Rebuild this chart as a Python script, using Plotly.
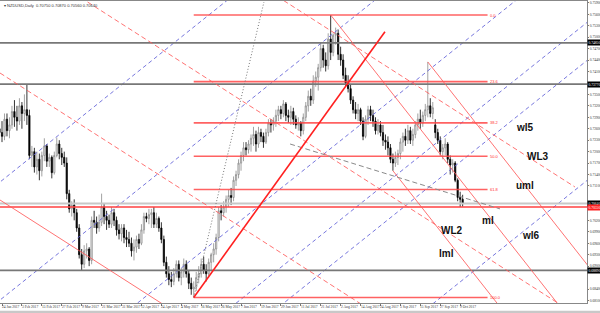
import plotly.graph_objects as go

# ---------------- data (NZDUSD daily, 23 Jan 2017 .. 10 Oct 2017) ----------------
open_ = [
 0.7260,0.7250,0.7240,0.7285,0.7255,0.7270,0.7305,0.7290,0.7280,0.7320,
 0.7300,0.7310,0.7295,0.7190,0.7200,0.7160,0.7180,0.7150,0.7190,0.7215,
 0.7175,0.7185,0.7145,0.7190,0.7220,0.7195,0.7185,0.7170,0.7090,0.7050,
 0.7060,0.7040,0.7000,0.6930,0.6905,0.6940,0.6945,0.6915,0.7020,0.7015,
 0.7000,0.7015,0.7055,0.7030,0.7020,0.7010,0.7040,0.7020,0.6995,0.6985,
 0.7000,0.6975,0.6970,0.6960,0.6940,0.6950,0.6970,0.6960,0.6995,0.7030,
 0.7025,0.7035,0.7040,0.7010,0.7025,0.7000,0.6970,0.6910,0.6880,0.6865,
 0.6860,0.6880,0.6905,0.6870,0.6885,0.6905,0.6880,0.6855,0.6840,0.6845,
 0.6870,0.6880,0.6905,0.6890,0.6880,0.6910,0.6930,0.6945,0.6975,0.7045,
 0.7040,0.7055,0.7075,0.7085,0.7080,0.7125,0.7140,0.7170,0.7190,0.7210,
 0.7205,0.7220,0.7235,0.7245,0.7220,0.7250,0.7240,0.7225,0.7250,0.7275,
 0.7270,0.7280,0.7295,0.7310,0.7300,0.7325,0.7295,0.7290,0.7305,0.7285,
 0.7270,0.7275,0.7255,0.7290,0.7320,0.7345,0.7335,0.7385,0.7395,0.7420,
 0.7470,0.7440,0.7425,0.7495,0.7460,0.7505,0.7510,0.7455,0.7440,0.7400,
 0.7380,0.7365,0.7335,0.7310,0.7300,0.7310,0.7280,0.7240,0.7285,0.7310,
 0.7295,0.7280,0.7255,0.7270,0.7250,0.7230,0.7225,0.7210,0.7180,0.7170,
 0.7185,0.7195,0.7225,0.7240,0.7230,0.7255,0.7230,0.7245,0.7270,0.7285,
 0.7275,0.7295,0.7310,0.7320,0.7300,0.7270,0.7250,0.7230,0.7200,0.7210,
 0.7220,0.7180,0.7165,0.7170,0.7125,0.7080,0.7075]
high = [
 0.7290,0.7280,0.7300,0.7300,0.7290,0.7320,0.7335,0.7320,0.7340,0.7330,
 0.7350,0.7376,0.7310,0.7215,0.7210,0.7200,0.7195,0.7200,0.7235,0.7220,
 0.7195,0.7190,0.7200,0.7237,0.7230,0.7210,0.7200,0.7185,0.7100,0.7070,
 0.7075,0.7050,0.7010,0.6945,0.6955,0.6960,0.6950,0.7030,0.7045,0.7030,
 0.7035,0.7090,0.7065,0.7045,0.7035,0.7055,0.7050,0.7030,0.7010,0.7010,
 0.7010,0.6995,0.6990,0.6975,0.6970,0.6980,0.6985,0.7010,0.7040,0.7040,
 0.7050,0.7050,0.7055,0.7040,0.7030,0.7015,0.6980,0.6925,0.6900,0.6885,
 0.6895,0.6915,0.6915,0.6895,0.6920,0.6915,0.6890,0.6870,0.6860,0.6885,
 0.6900,0.6920,0.6925,0.6905,0.6920,0.6935,0.6960,0.6985,0.7055,0.7060,
 0.7070,0.7085,0.7100,0.7105,0.7135,0.7150,0.7180,0.7200,0.7225,0.7225,
 0.7230,0.7245,0.7265,0.7255,0.7265,0.7260,0.7250,0.7260,0.7285,0.7285,
 0.7290,0.7310,0.7320,0.7320,0.7335,0.7330,0.7310,0.7320,0.7315,0.7295,
 0.7290,0.7280,0.7300,0.7330,0.7360,0.7365,0.7400,0.7410,0.7430,0.7485,
 0.7480,0.7460,0.7510,0.7558,0.7510,0.7525,0.7520,0.7475,0.7455,0.7420,
 0.7400,0.7375,0.7345,0.7330,0.7325,0.7315,0.7290,0.7295,0.7320,0.7320,
 0.7310,0.7290,0.7285,0.7280,0.7270,0.7245,0.7240,0.7220,0.7195,0.7200,
 0.7205,0.7235,0.7250,0.7260,0.7270,0.7265,0.7260,0.7280,0.7300,0.7310,
 0.7305,0.7325,0.7435,0.7340,0.7330,0.7285,0.7260,0.7240,0.7220,0.7235,
 0.7225,0.7190,0.7180,0.7175,0.7130,0.7095,0.7087]
low = [
 0.7230,0.7225,0.7230,0.7240,0.7235,0.7260,0.7265,0.7255,0.7270,0.7260,
 0.7280,0.7270,0.7180,0.7160,0.7145,0.7140,0.7125,0.7135,0.7175,0.7160,
 0.7160,0.7130,0.7140,0.7185,0.7180,0.7165,0.7160,0.7075,0.7040,0.7030,
 0.7020,0.6990,0.6920,0.6888,0.6895,0.6920,0.6900,0.6905,0.7000,0.6985,
 0.6990,0.7005,0.7010,0.6995,0.7000,0.7000,0.7005,0.6980,0.6970,0.6965,
 0.6960,0.6950,0.6950,0.6925,0.6915,0.6935,0.6945,0.6955,0.6985,0.7015,
 0.7010,0.7000,0.7000,0.7000,0.6990,0.6960,0.6900,0.6870,0.6850,0.6845,
 0.6850,0.6870,0.6860,0.6850,0.6870,0.6870,0.6840,0.6825,0.6818,0.6835,
 0.6855,0.6870,0.6880,0.6860,0.6870,0.6890,0.6910,0.6930,0.6965,0.7020,
 0.7030,0.7040,0.7055,0.7060,0.7070,0.7110,0.7130,0.7150,0.7175,0.7190,
 0.7195,0.7200,0.7215,0.7200,0.7210,0.7225,0.7210,0.7220,0.7240,0.7250,
 0.7255,0.7265,0.7280,0.7285,0.7290,0.7280,0.7275,0.7270,0.7270,0.7260,
 0.7255,0.7240,0.7245,0.7280,0.7305,0.7320,0.7325,0.7370,0.7360,0.7410,
 0.7420,0.7410,0.7415,0.7440,0.7450,0.7480,0.7440,0.7425,0.7390,0.7370,
 0.7355,0.7325,0.7300,0.7285,0.7280,0.7270,0.7230,0.7235,0.7270,0.7280,
 0.7265,0.7245,0.7245,0.7240,0.7215,0.7205,0.7190,0.7170,0.7150,0.7160,
 0.7165,0.7180,0.7200,0.7215,0.7220,0.7220,0.7215,0.7235,0.7255,0.7260,
 0.7265,0.7280,0.7290,0.7290,0.7285,0.7235,0.7220,0.7190,0.7180,0.7190,
 0.7170,0.7140,0.7145,0.7120,0.7070,0.7055,0.7056]
close = [
 0.7250,0.7240,0.7285,0.7255,0.7270,0.7305,0.7290,0.7280,0.7320,0.7300,
 0.7310,0.7295,0.7190,0.7200,0.7160,0.7180,0.7150,0.7190,0.7215,0.7175,
 0.7185,0.7145,0.7190,0.7220,0.7195,0.7185,0.7170,0.7090,0.7050,0.7060,
 0.7040,0.7000,0.6930,0.6905,0.6940,0.6945,0.6915,0.7020,0.7015,0.7000,
 0.7015,0.7055,0.7030,0.7020,0.7010,0.7040,0.7020,0.6995,0.6985,0.7000,
 0.6975,0.6970,0.6960,0.6940,0.6950,0.6970,0.6960,0.6995,0.7030,0.7025,
 0.7035,0.7040,0.7010,0.7025,0.7000,0.6970,0.6910,0.6880,0.6865,0.6860,
 0.6880,0.6905,0.6870,0.6885,0.6905,0.6880,0.6855,0.6840,0.6845,0.6870,
 0.6880,0.6905,0.6890,0.6880,0.6910,0.6930,0.6945,0.6975,0.7045,0.7040,
 0.7055,0.7075,0.7085,0.7080,0.7125,0.7140,0.7170,0.7190,0.7210,0.7205,
 0.7220,0.7235,0.7245,0.7220,0.7250,0.7240,0.7225,0.7250,0.7275,0.7270,
 0.7280,0.7295,0.7310,0.7300,0.7325,0.7295,0.7290,0.7305,0.7285,0.7270,
 0.7275,0.7255,0.7290,0.7320,0.7345,0.7335,0.7385,0.7395,0.7420,0.7470,
 0.7440,0.7425,0.7495,0.7460,0.7505,0.7510,0.7455,0.7440,0.7400,0.7380,
 0.7365,0.7335,0.7310,0.7300,0.7310,0.7280,0.7240,0.7285,0.7310,0.7295,
 0.7280,0.7255,0.7270,0.7250,0.7230,0.7225,0.7210,0.7180,0.7170,0.7185,
 0.7195,0.7225,0.7240,0.7230,0.7255,0.7230,0.7245,0.7270,0.7285,0.7275,
 0.7295,0.7310,0.7320,0.7300,0.7315,0.7250,0.7230,0.7200,0.7210,0.7220,
 0.7180,0.7165,0.7170,0.7125,0.7080,0.7075,0.7064]

date_tick_bars = [1, 9, 17, 25, 33, 41, 49, 57, 65, 73, 81, 89, 97, 105, 113,
                  121, 129, 137, 145, 153, 161, 169, 177, 185]
date_tick_labels = ["24 Jan 2017", "3 Feb 2017", "15 Feb 2017", "27 Feb 2017",
                    "9 Mar 2017", "21 Mar 2017", "31 Mar 2017", "12 Apr 2017",
                    "24 Apr 2017", "4 May 2017", "16 May 2017", "26 May 2017",
                    "7 Jun 2017", "19 Jun 2017", "29 Jun 2017", "11 Jul 2017",
                    "21 Jul 2017", "2 Aug 2017", "14 Aug 2017", "24 Aug 2017",
                    "5 Sep 2017", "15 Sep 2017", "27 Sep 2017", "9 Oct 2017"]
price_ticks = [0.7590, 0.7560, 0.7530, 0.7500, 0.7470, 0.7440, 0.7410,
               0.7350, 0.7320, 0.7290, 0.7260, 0.7230, 0.7200, 0.7170, 0.7140,
               0.7110, 0.7020, 0.6990, 0.6960, 0.6930, 0.6900,
               0.6840, 0.6810]
price_tick_labels = ["0.75900", "0.75600", "0.75300", "0.75000", "0.74700", "0.74400",
                     "0.74100", "0.73500", "0.73200", "0.72900", "0.72600",
                     "0.72300", "0.72000", "0.71700", "0.71400", "0.71100",
                     "0.70200", "0.69900", "0.69600", "0.69300", "0.69000",
                     "0.68400", "0.68100"]

# horizontal levels
black_levels = [0.7485, 0.7377, 0.6889]
red_level = 0.7055
last_price = 0.7064

# Fibonacci retracement (from May low to July high)
fib_low_bar, fib_low = 78, 0.6818
fib_high_bar, fib_high = 133, 0.7558
fib_end_bar = 196
fib_ratios = [0.0, 0.236, 0.382, 0.5, 0.618, 1.0]
fib_names = ["0.0", "23.6", "38.2", "50.0", "61.8", "100.0"]

# trend lines: (bar0, price0, bar1, price1)
uptrend = (78, 0.6818, 154.8, 0.7514)
dotted_line = (78, 0.6818, 106.2, 0.7592)
grey_dashed = (116.7, 0.7220, 201.0, 0.7050)

# red dashed parallel channel lines + solid lower one
red_channel_x0 = [100.6, 0.2, 0.2, 0.2]
red_channel_p0 = [0.76523, 0.77388, 0.74060, 0.70733]
red_channel_x1 = [231.1, 241.2, 241.2, 241.2]
red_channel_p1 = [0.71074, 0.67327, 0.63999, 0.60672]
red_channel_dash = ["5px,3px", "5px,3px", "5px,3px", "solid"]

# Andrews pitchfork pivots A (high), B (low), C (high)
pf_bars = [133, 158, 172]
pf_prices = [0.7558, 0.7150, 0.7435]

# blue dashed parallel lines
blue_x0, blue_x1 = -3.8, 241.2
blue_p0 = [0.70995, 0.67903, 0.64943, 0.62873, 0.61877, 0.58733]
blue_p1 = [0.83781, 0.80689, 0.77728, 0.75659, 0.74663, 0.71519]

# line labels
label_text = ["wl5", "WL3", "uml", "ml", "WL2", "wl6", "lml"]
label_bar = [211.0, 216.3, 211.2, 196.2, 181.9, 213.4, 179.5]
label_price = [0.72620, 0.71860, 0.71113, 0.70183, 0.69934, 0.69816, 0.69331]

title_text = "NZDUSD,Daily  0.70750 0.70870 0.70560 0.70640"

# ---------------- figure ----------------
bars = list(range(len(close)))
fig = go.Figure()
fig.add_trace(go.Candlestick(
    x=bars, open=open_, high=high, low=low, close=close,
    increasing=dict(line=dict(color="#8a8a8a", width=0.8), fillcolor="#ffffff"),
    decreasing=dict(line=dict(color="#000000", width=0.8), fillcolor="#000000"),
    hoverinfo="skip", showlegend=False))


def seg(x0, p0, x1, p1, color, width=1.0, dash="solid"):
    fig.add_trace(go.Scatter(x=[x0, x1], y=[p0, p1], mode="lines",
                             line=dict(color=color, width=width, dash=dash),
                             hoverinfo="skip", showlegend=False))


# blue dashed
for a, b in zip(blue_p0, blue_p1):
    seg(blue_x0, a, blue_x1, b, "rgba(95,95,215,0.85)", 1, "4px,3px")

# horizontal full-width lines
for lv in black_levels:
    seg(-5, lv, 250, lv, "#777777", 1.8)
seg(-5, last_price, 250, last_price, "#c8c8c8", 2)
seg(-5, red_level, 250, red_level, "#ff4040", 1.5)

# fibonacci levels
span = fib_high - fib_low
for r, nm in zip(fib_ratios, fib_names):
    lv = fib_high - r * span
    seg(fib_low_bar, lv, fib_end_bar, lv, "rgba(255,70,70,0.85)", 1.6)
    fig.add_annotation(x=fib_end_bar, y=lv, text=nm, showarrow=False, xanchor="left",
                       yanchor="middle", font=dict(size=4, color="#ff3030",
                                                   family="Liberation Sans"))

# red channel lines
for x0, p0, x1, p1, d in zip(red_channel_x0, red_channel_p0, red_channel_x1,
                             red_channel_p1, red_channel_dash):
    seg(x0, p0, x1, p1, "rgba(255,90,90,0.85)", 1, d)

# pitchfork
mid_b = (pf_bars[1] + pf_bars[2]) / 2
mid_p = (pf_prices[1] + pf_prices[2]) / 2
db, dp = mid_b - pf_bars[0], mid_p - pf_prices[0]
for b0, p0 in zip(pf_bars, pf_prices):
    seg(b0, p0, b0 + 4 * db, p0 + 4 * dp, "rgba(255,90,90,0.85)", 1)

# trend lines
seg(*dotted_line, color="#777777", width=1, dash="1px,2px")
seg(*grey_dashed, color="#8a8a8a", width=1, dash="5px,3px")
seg(*uptrend, color="#ff2020", width=1.6)

# labels
for t, bx, py in zip(label_text, label_bar, label_price):
    fig.add_annotation(x=bx, y=py, text="<b>" + t + "</b>", showarrow=False,
                       font=dict(size=10, color="#111111", family="Liberation Sans"))

# date labels (left aligned at their bar, MT4 style)
for b, t in zip(date_tick_bars, date_tick_labels):
    fig.add_annotation(x=b, y=-0.002, xref="x", yref="paper", text=t,
                       showarrow=False, xanchor="left", yanchor="top", xshift=-1,
                       font=dict(size=3.6, color="#333333",
                                 family="Liberation Sans Narrow"),
                       borderpad=0)

# price boxes on the right scale
for lv in black_levels + [last_price]:
    fig.add_annotation(x=1, xref="paper", y=lv, yref="y", text=f"{lv:.5f}",
                       showarrow=False, xanchor="left", bgcolor="#000000",
                       font=dict(size=3.6, color="#ffffff",
                                 family="Liberation Sans Narrow"),
                       borderpad=0.5)
fig.add_annotation(x=1, xref="paper", y=red_level, yref="y", text=f"{red_level:.5f}",
                   showarrow=False, xanchor="left", bgcolor="#ff2020",
                   font=dict(size=3.6, color="#ffffff", family="Liberation Sans Narrow"),
                   borderpad=0.5, yshift=-1)

fig.add_annotation(x=0.004, xref="paper", y=1, yref="paper", yanchor="top",
                   xanchor="left", text="▾ " + title_text, showarrow=False,
                   font=dict(size=4, color="#333333", family="Liberation Sans"))

# bottom scroll strip
fig.add_shape(type="rect", xref="paper", yref="paper", x0=0, x1=1.03, y0=-0.033,
              y1=-0.026, fillcolor="#c8c8c8", line=dict(width=0))

fig.update_layout(
    width=600, height=313, margin=dict(l=0, r=13, t=1, b=10),
    paper_bgcolor="white", plot_bgcolor="white",
    xaxis=dict(range=[0.197, 235.94], rangeslider=dict(visible=False),
               tickvals=date_tick_bars, showticklabels=False, ticks="outside",
               ticklen=2, tickcolor="#777",
               showgrid=False, zeroline=False, showline=True, linecolor="#888",
               linewidth=1, mirror=True, automargin=False),
    yaxis=dict(range=[0.680344, 0.759468], side="right", tickvals=price_ticks,
               ticktext=price_tick_labels, ticks="outside", ticklen=1,
               tickcolor="#777", tickfont=dict(size=3.6, color="#333",
                                               family="Liberation Sans Narrow"),
               showgrid=False, zeroline=False, showline=True, linecolor="#888",
               linewidth=1, mirror=True, automargin=False),
)

fig.write_html("out.html")
